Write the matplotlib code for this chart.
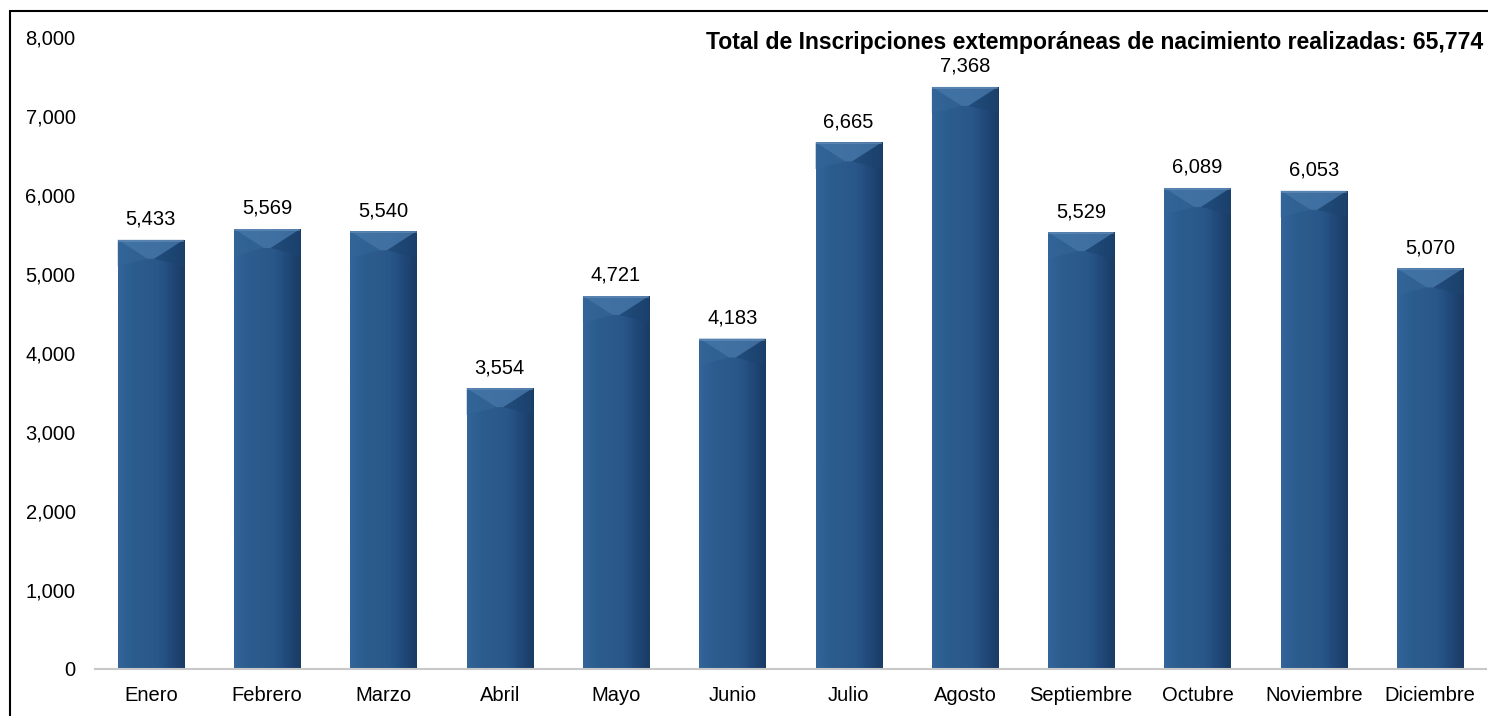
import numpy as np
import matplotlib.pyplot as plt
from matplotlib.patches import Rectangle, Polygon
from matplotlib.colors import LinearSegmentedColormap

plt.rcParams['font.family'] = ['Liberation Sans', 'DejaVu Sans']

meses = ['Enero', 'Febrero', 'Marzo', 'Abril', 'Mayo', 'Junio', 'Julio',
         'Agosto', 'Septiembre', 'Octubre', 'Noviembre', 'Diciembre']
inscripciones = [5433, 5569, 5540, 3554, 4721, 4183, 6665, 7368, 5529, 6089, 6053, 5070]
titulo = 'Total de Inscripciones extemporáneas de nacimiento realizadas: 65,774'

W, H = 1488, 716
fig = plt.figure(figsize=(W / 100, H / 100), dpi=100)
ax = fig.add_axes([95 / W, (H - 669) / H, (1486 - 95) / W, (669 - 37) / H])

# horizontal shading across each bar
cmap = LinearSegmentedColormap.from_list('barra', ['#33649a', '#2c5d8f', '#2b5a8b', '#29578a', '#21497a', '#193c63'])
grad = np.linspace(0, 1, 64).reshape(1, -1)

x = np.arange(len(meses))
bw = 0.57
bars = ax.bar(x, inscripciones, width=bw, color='#2a5a8b', linewidth=0, zorder=2)

bev_y = 240
for b in bars:
    x0 = b.get_x()
    x1 = x0 + b.get_width()
    top = b.get_height()
    xm = (x0 + x1) / 2
    im = ax.imshow(grad, extent=[x0, x1, 0, top], aspect='auto', cmap=cmap, zorder=2.5)
    im.set_clip_path(b)
    # top bevel
    ax.add_patch(Polygon([(x0, top), (x1, top), (xm + 0.03, top - bev_y), (xm - 0.03, top - bev_y)],
                         closed=True, color='#4879ab', lw=0, alpha=0.75, zorder=3))
    ax.add_patch(Polygon([(x0, top), (xm - 0.03, top - bev_y), (x0, top - bev_y * 1.4)],
                         closed=True, color='#346698', lw=0, alpha=0.6, zorder=3))
    ax.add_patch(Polygon([(x1, top), (xm + 0.03, top - bev_y), (x1, top - bev_y * 1.4)],
                         closed=True, color='#1c4470', lw=0, alpha=0.6, zorder=3))
    ax.add_patch(Rectangle((x0, top - 25), x1 - x0, 25, color='#6f95bd', lw=0, alpha=0.5, zorder=3))
    ax.text(xm, top + 140, f'{top:,.0f}', ha='center', va='bottom', fontsize=14.5, zorder=4)

ax.set_xlim(-0.48, len(meses) - 0.52)
ax.set_ylim(0, 8000)
ax.set_yticks(np.arange(0, 8001, 1000))
ax.set_yticklabels([f'{v:,}' for v in range(0, 8001, 1000)], fontsize=14.5)
ax.set_xticks(x)
ax.set_xticklabels(meses, fontsize=14.5)
ax.tick_params(axis='both', length=0)
ax.tick_params(axis='y', pad=14)
ax.tick_params(axis='x', pad=12)
for s in ['top', 'right', 'left']:
    ax.spines[s].set_visible(False)
ax.spines['bottom'].set_color('#c8c8c8')
ax.spines['bottom'].set_linewidth(1.5)

fig.text(1483 / W, 1 - 43 / H, titulo, ha='right', va='center', fontsize=16.6, fontweight='bold')

# outer frame (clipped at right and bottom in the reference)
fig.patches.append(Rectangle((10 / W, -0.1), 1.2, 1.1 - 11 / H, transform=fig.transFigure,
                             fill=False, edgecolor='black', lw=1.5))

fig.savefig('out.png', dpi=100)
